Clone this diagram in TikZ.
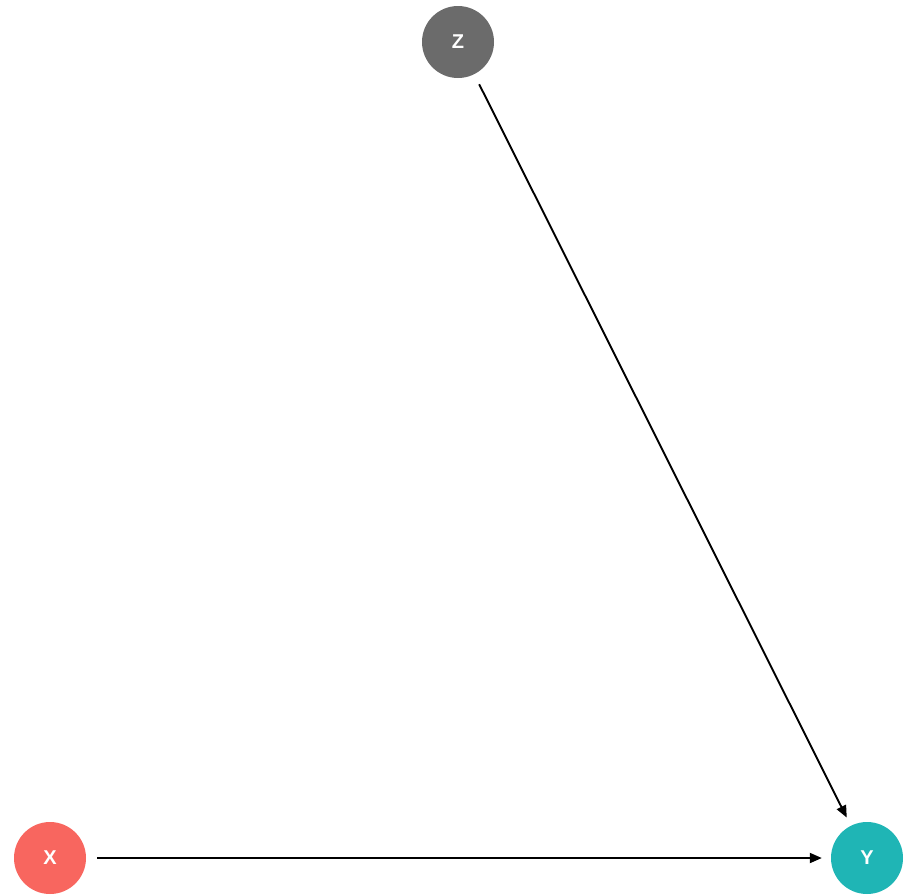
\documentclass[tikz,border=0pt]{standalone}
\usepackage{fontspec}
\setsansfont{Liberation Sans}
\usepackage{tikz}
\usetikzlibrary{arrows.meta,positioning}
\definecolor{zgrey}{HTML}{6B6B6B}
\definecolor{xsalmon}{HTML}{F8665F}
\definecolor{yteal}{HTML}{1FB5B5}
\tikzset{
  varnode/.style={
    circle, fill=#1, draw=none,
    minimum size=72pt, inner sep=0pt,
    font=\fontsize{20}{24}\selectfont\sffamily\bfseries, text=white
  },
  varnode/.default=zgrey,
  causearrow/.style={
    -{Triangle[length=12pt,width=10pt]}, line width=1.9pt, color=black,
    shorten <=11pt, shorten >=9pt
  },
}
\begin{document}
\begin{tikzpicture}[x=1pt,y=-1pt]
\useasboundingbox (0,0) rectangle (911,895);

\node[varnode] (z) at (458,42) {Z};
\node[varnode=xsalmon] (x) at (50,858) {X};
\node[varnode=yteal] (y) at (867,858) {Y};

% Edges into Y
\draw[causearrow] (z) -- (y);
\draw[causearrow] (x) -- (y);

\end{tikzpicture}
\end{document}
